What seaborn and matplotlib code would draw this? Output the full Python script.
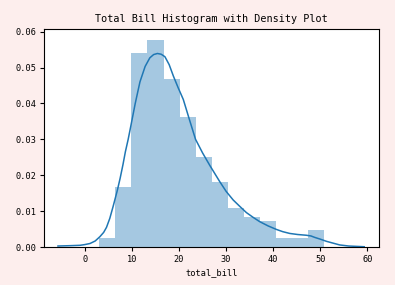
import matplotlib
matplotlib.use("Agg")
import matplotlib.pyplot as plt
import seaborn as sns
import numpy as np
import pandas as pd

# Histogram: 14 bins over total_bill (3.07 .. 50.81), density heights
bin_edges = [3.07, 6.48, 9.89, 13.30, 16.71, 20.12, 23.53, 26.94, 30.35,
             33.76, 37.17, 40.58, 43.99, 47.40, 50.81]
bin_density = [0.0024, 0.0168, 0.0541, 0.0577, 0.0469, 0.0361, 0.0252,
               0.0180, 0.0108, 0.0084, 0.0072, 0.0024, 0.0024, 0.0048]

# KDE curve
kde_x = [-5.7, -3.0, -1.0, 0.0, 1.1, 2.2, 3.2, 4.0, 4.6, 5.3, 6.0, 6.9, 7.5,
         8.1, 8.6, 9.2, 9.7, 10.7, 11.7, 12.8, 13.8, 14.6, 15.4, 16.2, 17.0,
         17.9, 18.8, 19.8, 20.9, 22.2, 23.5, 25.0, 26.5, 28.6, 30.0, 31.5, 33.0,
         34.3, 35.7, 37.1, 38.9, 40.7, 42.0, 43.5, 45.2, 47.0, 48.0, 48.8, 50.0,
         51.3, 52.7, 54.1, 56.0, 59.3]
kde_y = [0.0003, 0.0004, 0.0005, 0.0007, 0.0010, 0.0017, 0.0029, 0.0041, 0.0055,
         0.0080, 0.0113, 0.0158, 0.0192, 0.0230, 0.0265, 0.0300, 0.0333, 0.0400,
         0.0460, 0.0503, 0.0527, 0.0536, 0.0539, 0.0537, 0.0530, 0.0508, 0.0476,
         0.0444, 0.0411, 0.0355, 0.0300, 0.0262, 0.0228, 0.0183, 0.0155, 0.0131,
         0.0112, 0.0096, 0.0083, 0.0071, 0.0059, 0.0049, 0.0043, 0.0038, 0.0035,
         0.0033, 0.0031, 0.0027, 0.0022, 0.0016, 0.0011, 0.0006, 0.0003, 0.0001]

bg = "#fdeeed"
plt.rcParams["font.family"] = ["DejaVu Sans Mono"]

fig = plt.figure(figsize=(3.95, 2.85), dpi=100, facecolor=bg)
ax = fig.add_axes([0.111, 0.133, 0.848, 0.765])
ax.set_facecolor("white")

centers = [(a + b) / 2 for a, b in zip(bin_edges[:-1], bin_edges[1:])]
hist_df = pd.DataFrame({"center": centers, "density": bin_density})
sns.histplot(data=hist_df, x="center", weights="density", bins=bin_edges,
             stat="count", color="#1f77b4", alpha=0.4, linewidth=0, ax=ax)

kde_df = pd.DataFrame({"x": kde_x, "y": kde_y})
sns.lineplot(data=kde_df, x="x", y="y", color="#1f77b4", linewidth=1.1, ax=ax)

ax.set_xlim(-8.7, 62.4)
ax.set_ylim(0, 0.0607)
ax.set_xticks([0, 10, 20, 30, 40, 50, 60])
ax.set_yticks([0.00, 0.01, 0.02, 0.03, 0.04, 0.05, 0.06])
ax.set_yticklabels(["0.00", "0.01", "0.02", "0.03", "0.04", "0.05", "0.06"])
ax.tick_params(labelsize=6.2, length=3, width=0.8, direction="out", pad=2.5)
for s in ax.spines.values():
    s.set_color("black")
    s.set_linewidth(0.8)
ax.set_xlabel("total_bill", fontsize=6.2, labelpad=3)
ax.set_ylabel("")
ax.set_title("Total Bill Histogram with Density Plot", fontsize=7.3, pad=5)

fig.savefig("out.png", dpi=100, facecolor=bg)
